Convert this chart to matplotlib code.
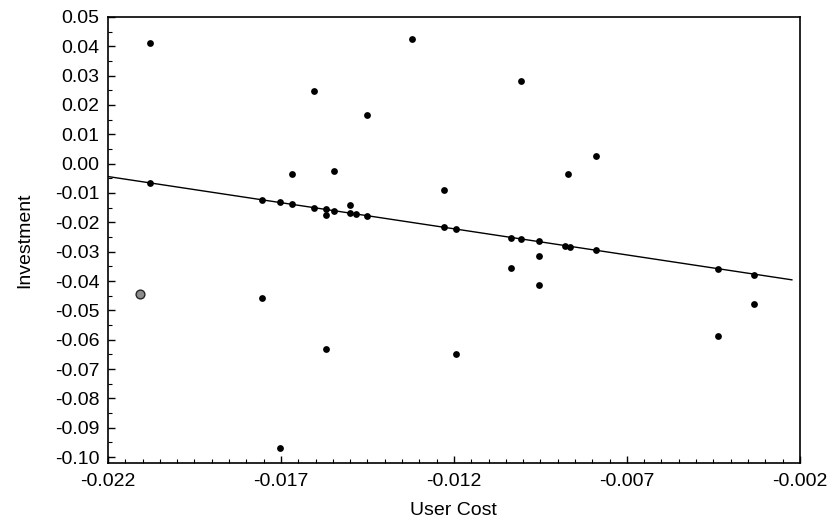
import numpy as np
import matplotlib
matplotlib.use("Agg")
import matplotlib.pyplot as plt
from matplotlib.ticker import MultipleLocator, FormatStrFormatter

plt.rcParams['font.family'] = ['Liberation Sans', 'DejaVu Sans']

# Data
user_cost = [
    -0.02079, -0.02079, -0.01756, -0.01704, -0.01667, -0.01667, -0.01603, -0.01603,
    -0.01570, -0.01570, -0.01546, -0.01546, -0.01500, -0.01500, -0.01482, -0.01451,
    -0.01451, -0.01321, -0.01229, -0.01229, -0.01195, -0.01007, -0.01036, -0.01007,
    -0.00955, -0.00955, -0.00871, -0.00790, -0.00880, -0.00863, -0.00790,
    -0.01756, -0.01570, -0.01704, -0.01195, -0.01036, -0.00955,
    -0.00436, -0.00436, -0.00333, -0.00333,
]
investment = [
    0.0410, -0.0065, -0.0123, -0.0130, -0.0137, -0.0034, 0.0246, -0.0150,
    -0.0154, -0.0174, -0.0024, -0.0160, -0.0140, -0.0167, -0.0171, 0.0164,
    -0.0177, 0.0423, -0.0089, -0.0215, -0.0222, 0.0280, -0.0253, -0.0256,
    -0.0263, -0.0314, -0.0034, 0.0027, -0.0280, -0.0283, -0.0294,
    -0.0457, -0.0631, -0.0969, -0.0648, -0.0355, -0.0413,
    -0.0358, -0.0587, -0.0379, -0.0478,
]
# one point printed grey in the original
grey_cost = [-0.02108]
grey_investment = [-0.0444]

# fitted line
fit_x = [-0.022, -0.00223]
fit_intercept = -0.0044   # value at x = -0.022
fit_slope = -1.78

x_ticks = [-0.022, -0.017, -0.012, -0.007, -0.002]

fig = plt.figure(figsize=(8.28, 5.27), dpi=100)
ax = fig.add_axes([0.1304, 0.1214, 0.8356, 0.8466])

fx = np.array(fit_x)
ax.plot(fx, fit_intercept + fit_slope * (fx - fit_x[0]), color='black', lw=1.0, zorder=2)
ax.scatter(user_cost, investment, s=24, color='black', zorder=3, linewidths=0)
ax.scatter(grey_cost, grey_investment, s=40, facecolor='0.55', edgecolor='0.15',
           linewidths=1.0, zorder=3)

ax.set_xlim(-0.022, -0.002)
ax.set_ylim(-0.102, 0.05)
ax.set_xticks(x_ticks)
ax.xaxis.set_minor_locator(MultipleLocator(0.0005))
ax.yaxis.set_major_locator(MultipleLocator(0.01))
ax.yaxis.set_minor_locator(MultipleLocator(0.005))
ax.xaxis.set_major_formatter(FormatStrFormatter('%.3f'))
ax.yaxis.set_major_formatter(FormatStrFormatter('%.2f'))

ax.tick_params(which='both', direction='in', top=False, right=False, labelsize=14)
ax.tick_params(which='major', length=5, width=1)
ax.tick_params(which='minor', length=3, width=0.8)
ax.tick_params(axis='x', which='major', pad=7)
ax.tick_params(axis='y', which='major', pad=6)
for s in ax.spines.values():
    s.set_linewidth(1.2)

ax.set_xlabel('User Cost', fontsize=14, labelpad=9)
ax.set_ylabel('Investment', fontsize=14, labelpad=16)

fig.savefig('out.png', dpi=100)
